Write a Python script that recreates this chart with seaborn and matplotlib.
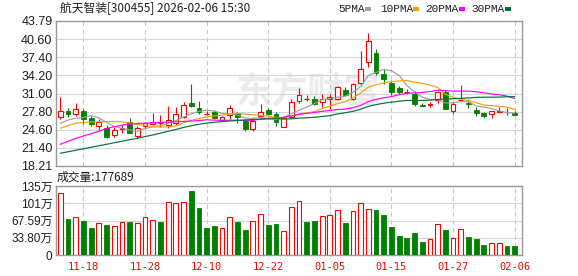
import numpy as np
import pandas as pd
import matplotlib
matplotlib.use("Agg")
import matplotlib.pyplot as plt
from matplotlib.patches import Rectangle
import seaborn as sns

# ---------------- data ----------------
dates = ["11-13", "11-14", "11-17", "11-18", "11-19", "11-20", "11-21", "11-24", "11-25", "11-26",
         "11-27", "11-28", "12-01", "12-02", "12-03", "12-04", "12-05", "12-08", "12-09", "12-10",
         "12-11", "12-12", "12-15", "12-16", "12-17", "12-18", "12-19", "12-22", "12-23", "12-24",
         "12-25", "12-26", "12-29", "12-30", "12-31", "01-05", "01-06", "01-07", "01-08", "01-09",
         "01-12", "01-13", "01-14", "01-15", "01-16", "01-19", "01-20", "01-21", "01-22", "01-23",
         "01-26", "01-27", "01-28", "01-29", "01-30", "02-02", "02-03", "02-04", "02-05", "02-06"]
opens = [26.81, 27.92, 27.44, 27.92, 26.74, 25.22, 24.87, 23.68, 24.74, 26.03,
         23.56, 25.27, 25.62, 25.75, 25.45, 25.75, 26.91, 29.38, 28.50, 27.33,
         27.74, 26.33, 27.21, 27.51, 26.21, 24.69, 27.03, 28.09, 27.39, 25.15,
         26.91, 29.73, 29.98, 30.03, 29.50, 30.03, 30.03, 31.62, 30.03, 32.80,
         36.51, 38.15, 34.50, 32.85, 31.92, 31.27, 30.92, 28.92, 28.92, 29.86,
         31.27, 27.92, 29.80, 29.27, 28.09, 27.62, 27.33, 27.69, 27.74, 27.62]
highs = [30.44, 28.39, 29.33, 28.22, 27.03, 26.45, 25.45, 25.09, 25.45, 26.63,
         25.27, 26.03, 27.56, 27.26, 28.80, 28.62, 29.56, 32.68, 29.63, 27.97,
         28.09, 27.03, 28.92, 27.79, 26.45, 26.91, 29.15, 28.39, 27.79, 26.91,
         30.03, 32.03, 30.79, 30.56, 30.92, 30.92, 32.33, 32.20, 32.80, 38.55,
         41.73, 38.80, 35.27, 33.16, 32.33, 31.74, 31.39, 29.27, 29.50, 31.50,
         31.62, 29.50, 32.50, 29.98, 28.68, 27.79, 27.92, 28.68, 28.39, 27.97]
lows = [26.45, 26.91, 27.03, 25.62, 25.27, 24.57, 23.23, 23.25, 23.98, 23.98,
        23.10, 24.69, 25.45, 25.09, 24.92, 25.45, 26.68, 28.68, 27.39, 27.12,
        26.45, 26.21, 26.56, 25.75, 24.44, 24.44, 26.91, 27.21, 25.32, 25.15,
        26.63, 29.27, 29.68, 28.97, 28.57, 28.22, 29.86, 30.56, 29.86, 32.50,
        35.73, 34.27, 32.68, 30.79, 30.92, 30.86, 28.71, 28.76, 28.57, 29.27,
        28.18, 27.33, 29.77, 28.39, 27.09, 26.74, 26.74, 27.51, 27.21, 27.12]
closes = [27.92, 27.33, 28.22, 26.45, 25.57, 26.03, 23.28, 24.57, 24.92, 24.09,
          24.87, 25.75, 25.98, 25.75, 26.24, 27.33, 28.97, 28.85, 27.79, 27.33,
          26.59, 26.81, 28.39, 26.81, 24.74, 26.21, 27.69, 27.39, 25.92, 26.74,
          29.56, 30.74, 29.98, 29.15, 30.09, 30.44, 32.10, 30.74, 32.63, 35.27,
          40.21, 34.67, 33.51, 31.32, 31.32, 31.27, 29.10, 28.80, 29.20, 31.32,
          28.22, 29.20, 29.94, 29.15, 27.62, 27.03, 27.92, 27.86, 27.74, 27.16]
volumes = [120.6, 71.4, 75.4, 67.5, 52.4, 63.6, 58.3, 57.7, 65.5, 64.2,
           63.6, 75.4, 69.5, 65.5, 104.8, 100.9, 104.8, 124.5, 91.7, 52.4,
           56.4, 53.7, 75.4, 64.2, 48.5, 67.5, 81.3, 58.3, 60.3, 47.8,
           95.0, 105.0, 63.9, 65.9, 75.6, 77.6, 87.4, 61.9, 85.4, 101.0,
           89.3, 87.4, 77.6, 54.1, 36.5, 32.6, 42.4, 24.8, 30.6, 60.0,
           48.2, 32.6, 50.2, 34.6, 30.6, 18.9, 22.8, 22.8, 17.0, 17.77]  # 万
# moving-average values at the start of the window
ma5_lead = [25.71, 26.33, 26.63, 26.77]
ma10_lead = [24.87, 25.36, 25.75, 25.89, 25.98, 26.01, 26.03, 26.03, 26.01]
ma20_lead = [22.04, 22.57, 23.07, 23.51, 23.90, 24.34, 24.83, 25.13, 25.41, 25.59,
             25.71, 25.77, 25.82, 25.89, 25.94, 26.01, 26.08, 26.14, 26.22]
ma30_lead = [20.46, 20.72, 20.99, 21.25, 21.51, 21.78, 22.04, 22.31, 22.57, 22.84,
             23.10, 23.40, 23.68, 24.00, 24.34, 24.65, 25.01, 25.31, 25.57, 25.77,
             25.92, 26.05, 26.15, 26.24, 26.33, 26.40, 26.47, 26.52, 26.58]
ma_names = ["5PMA", "10PMA", "20PMA", "30PMA"]
ma_windows = [5, 10, 20, 30]
ma_leads = [ma5_lead, ma10_lead, ma20_lead, ma30_lead]

price_ticks = [18.21, 21.40, 24.60, 27.80, 31.00, 34.20, 37.40, 40.60, 43.79]
price_tick_labels = ["18.21", "21.40", "24.60", "27.80", "31.00", "34.20", "37.40", "40.60", "43.79"]
vol_ticks = [0, 33.80, 67.59, 101.39, 135.18]
vol_tick_labels = ["0", "33.80万", "67.59万", "101万", "135万"]
title = "航天智装[300455] 2026-02-06 15:30"
vol_title = "成交量:177689"
watermark = "东方财富"

# ---------------- styles ----------------
RED = "#ff0000"
GREEN = "#008000"
ma_colors = ["#a0a0a0", "#f2a20c", "#ff00ff", "#00713a"]
GRID = "#d6d6d6"
VGRID = "#c8c8c8"
SPINE = "#9a9a9a"
TXT = "#1e1e1e"

sns.set_theme(style="white")
plt.rcParams["font.family"] = ["Liberation Sans", "Noto Sans CJK SC", "DejaVu Sans"]

W, H = 578, 276
fig = plt.figure(figsize=(W / 100, H / 100), dpi=100)
fig.patch.set_facecolor("white")


def px_axes(l, t, r, b):
    return fig.add_axes([l / W, 1 - b / H, (r - l) / W, (b - t) / H])


ax = px_axes(56, 21, 522, 166)
axv = px_axes(56, 186, 522, 255)

df = pd.DataFrame(dict(date=dates, open=opens, high=highs, low=lows, close=closes, vol=volumes))
df["x"] = np.arange(len(df))
for name, n, lead in zip(ma_names, ma_windows, ma_leads):
    s = df["close"].rolling(n).mean()
    s.iloc[:n - 1] = lead
    df[name] = s

x = df["x"].to_numpy()
o = df["open"].to_numpy(); c = df["close"].to_numpy()
h = df["high"].to_numpy(); l = df["low"].to_numpy()
bw = 0.62

up = c > o
dn = c < o
dj = c == o

# watermark
ax.text(0.541, 0.51, watermark, transform=ax.transAxes, ha="center", va="center",
        fontsize=26, fontweight="bold", color="#ebebeb", zorder=0,
        family=["Noto Sans CJK SC", "DejaVu Sans"])

# candles: up (hollow red)
ax.vlines(x[up], c[up], h[up], color=RED, lw=0.8, zorder=3)
ax.vlines(x[up], l[up], o[up], color=RED, lw=0.8, zorder=3)
ax.bar(x[up], c[up] - o[up], bottom=o[up], width=bw, facecolor="white",
       edgecolor=RED, linewidth=0.8, zorder=3)
# down (filled green)
ax.vlines(x[dn], l[dn], h[dn], color=GREEN, lw=0.8, zorder=3)
ax.bar(x[dn], o[dn] - c[dn], bottom=c[dn], width=bw, facecolor=GREEN,
       edgecolor=GREEN, linewidth=0.6, zorder=3)
# doji
ax.vlines(x[dj], l[dj], h[dj], color=RED, lw=0.8, zorder=3)
ax.hlines(o[dj], x[dj] - bw / 2, x[dj] + bw / 2, color=RED, lw=0.9, zorder=3)

# moving averages
long = df.melt(id_vars="x", value_vars=ma_names, var_name="ma", value_name="price")
sns.lineplot(data=long, x="x", y="price", hue="ma", hue_order=ma_names,
             palette=dict(zip(ma_names, ma_colors)), ax=ax, legend=False,
             linewidth=0.85, zorder=4)

# volume
prev_c = np.r_[c[0], c[:-1]]
vred = up | (dj & (c >= prev_c))
v = df["vol"].to_numpy()
axv.bar(x[vred], v[vred], width=bw, facecolor="white", edgecolor=RED, linewidth=0.8, zorder=3)
axv.bar(x[~vred], v[~vred], width=bw, facecolor=GREEN, edgecolor=GREEN, linewidth=0.6, zorder=3)

date_idx = list(range(3, len(dates), 8))
for a in (ax, axv):
    a.set_xlim(-0.56, len(dates) - 0.05)
    a.set_xticks(date_idx)
    a.grid(axis="x", color=VGRID, linestyle=(0, (4, 3)), linewidth=0.8, zorder=1)
    a.grid(axis="y", color=GRID, linestyle="-", linewidth=0.8, zorder=1)
    a.set_axisbelow(True)
    for sp in a.spines.values():
        sp.set_color(SPINE)
        sp.set_linewidth(1.0)
    a.tick_params(length=0)
    a.set_xlabel("")
    a.set_ylabel("")

ax.set_ylim(price_ticks[0], price_ticks[-1])
ax.set_yticks(price_ticks)
ax.set_yticklabels(price_tick_labels, fontsize=9, color=TXT)
ax.tick_params(axis="y", pad=2.5)
ax.set_xticklabels([])

axv.set_ylim(vol_ticks[0], vol_ticks[-1])
axv.set_yticks(vol_ticks)
axv.set_yticklabels(vol_tick_labels, fontsize=8.5, color=TXT)
axv.tick_params(axis="y", pad=2.5)
axv.set_xticklabels([dates[i] for i in date_idx], color=RED, fontsize=7.5,
                    family=["DejaVu Sans Mono"])
axv.tick_params(axis="x", pad=5)

# title and texts
fig.text(60 / W, 1 - 9 / H, title, ha="left", va="center", fontsize=8.5, color=TXT,
         family=["Noto Sans CJK SC", "DejaVu Sans"])
fig.text(57 / W, 1 - 177.5 / H, vol_title, ha="left", va="center", fontsize=8.5, color=TXT,
         family=["Noto Sans CJK SC", "DejaVu Sans"])

# legend
leg_text_x = [338, 380, 425.5, 471.5]
leg_box_x = [365.3, 413.3, 459.3, 505.3]
for name, col, tx, bx in zip(ma_names, ma_colors, leg_text_x, leg_box_x):
    fig.text(tx / W, 1 - 9 / H, name, ha="left", va="center", fontsize=8, color=TXT,
             family=["Liberation Mono"])
    fig.add_artist(Rectangle((bx / W, 1 - 10.5 / H), 5.4 / W, 3.4 / H,
                             transform=fig.transFigure, facecolor=col, edgecolor="none"))

fig.savefig("out.png", dpi=100, facecolor="white")
